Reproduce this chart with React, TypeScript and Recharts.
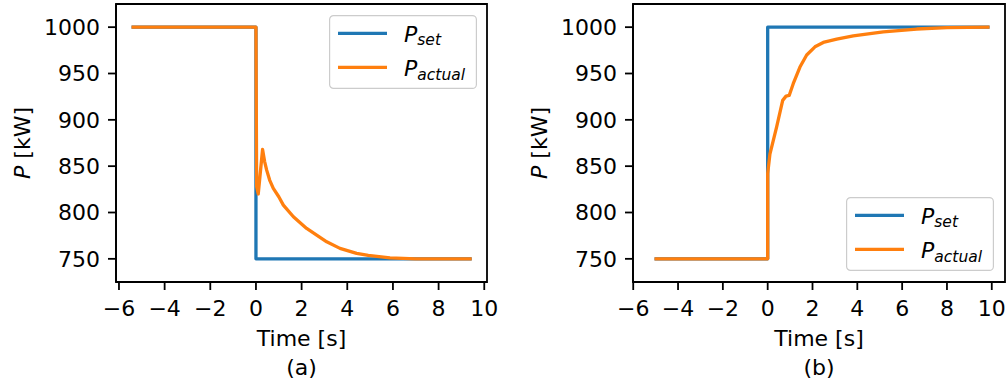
import { LineChart, Line, XAxis, YAxis, Legend, Label, ReferenceArea } from 'recharts';

const FONT = 'DejaVu Sans';
const BLUE = '#1f77b4';
const ORANGE = '#ff7f0e';

const xTicks = [-6, -4, -2, 0, 2, 4, 6, 8, 10];
const yTicks = [750, 800, 850, 900, 950, 1000];

// (a) setpoint step down
const timeSetA = [-5.45, 0, 0, 9.45];
const powerSetA = [1000, 1000, 750, 750];
const timeActualA = [-5.45, 0, 0.03, 0.1, 0.29, 0.38, 0.47, 0.6, 0.76, 1.0, 1.2, 1.64, 2.22, 2.66, 3.1, 3.68, 4.41, 4.92, 5.87, 7.0, 9.45];
const powerActualA = [1000, 1000, 828, 820, 868, 855, 845.7, 835, 826, 817, 808, 795.4, 782.8, 775.6, 768.4, 761.3, 755.9, 753.7, 751, 750, 750];

// (b) setpoint step up
const timeSetB = [-5.05, 0, 0, 9.9];
const powerSetB = [750, 750, 1000, 1000];
const timeActualB = [-5.05, 0, 0, 0.1, 0.4, 0.67, 0.82, 0.96, 1.14, 1.44, 1.74, 2.11, 2.48, 3.08, 3.82, 4.57, 5.16, 6.65, 8.0, 9.9];
const powerActualB = [750, 750, 842, 863, 892.5, 921, 925.6, 926.3, 939, 957, 970, 978.8, 983.5, 987, 990.6, 993, 995, 998, 999.5, 1000];

const yDomain: [number, number] = [725, 1025];

const toRows = (t: number[], p: number[]) => t.map((v, i) => ({ t: v, p: p[i] }));
const fmt = (v: number) => String(v).replace('-', '\u2212');

const axisStyle = { stroke: '#000', strokeWidth: 1.8 };
const tickStyle = { fontSize: 22, fontFamily: FONT, fill: '#000' };

const PLOT_TOP = 4;
const PLOT_BOTTOM = 282;
const HEIGHT = 389;

function LegendBox() {
  return (
    <svg width={148} height={74} style={{ display: 'block' }}>
      <rect x={0.6} y={0.6} width={146.8} height={72.8} rx={4} fill="#fff" fillOpacity={0.8} stroke="#ccc" strokeWidth={1.2} />
      <line x1={9} x2={58} y1={18.3} y2={18.3} stroke={BLUE} strokeWidth={3.3} />
      <line x1={9} x2={58} y1={52.3} y2={52.3} stroke={ORANGE} strokeWidth={3.3} />
      <text x={75} y={27.3} fontFamily={FONT} fontSize={22} fontStyle="italic" fill="#000">
        P<tspan fontSize={15.5} dy={3}>set</tspan>
      </text>
      <text x={75} y={60.6} fontFamily={FONT} fontSize={22} fontStyle="italic" fill="#000">
        P<tspan fontSize={15.5} dy={4}>actual</tspan>
      </text>
    </svg>
  );
}

type PanelProps = {
  width: number;
  plotLeft: number;
  plotRight: number;
  xDomain: [number, number];
  setRows: { t: number; p: number }[];
  actualRows: { t: number; p: number }[];
  legendLeft: number;
  legendTop: number;
  yLabelX: number;
  tag: string;
};

function Panel(props: PanelProps) {
  const { width, plotLeft, plotRight, xDomain, setRows, actualRows, legendLeft, legendTop, yLabelX, tag } = props;
  const cx = (plotLeft + plotRight) / 2;
  const cy = (PLOT_TOP + PLOT_BOTTOM) / 2;
  return (
    <LineChart width={width} height={HEIGHT} margin={{ top: PLOT_TOP, right: width - plotRight, bottom: 0, left: 0 }}>
      <XAxis
        type="number"
        dataKey="t"
        domain={xDomain}
        allowDataOverflow
        ticks={xTicks}
        interval={0}
        tickFormatter={fmt}
        tickSize={8}
        tickMargin={10}
        height={HEIGHT - PLOT_BOTTOM}
        tick={tickStyle}
        axisLine={axisStyle}
        tickLine={axisStyle}
      >
        <Label
          content={() => (
            <g fontFamily={FONT} fontSize={22} fill="#000">
              <text x={cx} y={346} textAnchor="middle">Time [s]</text>
              <text x={cx} y={375} textAnchor="middle">{tag}</text>
            </g>
          )}
        />
      </XAxis>
      <YAxis
        type="number"
        domain={yDomain}
        allowDataOverflow
        ticks={yTicks}
        interval={0}
        tickSize={8}
        tickMargin={8}
        width={plotLeft}
        tick={tickStyle}
        axisLine={axisStyle}
        tickLine={axisStyle}
      >
        <Label
          content={() => (
            <text x={yLabelX} y={cy} transform={`rotate(-90 ${yLabelX} ${cy})`} textAnchor="middle" fontFamily={FONT} fontSize={22} fill="#000">
              <tspan fontStyle="italic">P</tspan>{' [kW]'}
            </text>
          )}
        />
      </YAxis>
      {/* frame: top and right spines */}
      <ReferenceArea
        x1={xDomain[0]}
        x2={xDomain[1]}
        y1={yDomain[0]}
        y2={yDomain[1]}
        ifOverflow="visible"
        fill="none"
        fillOpacity={0}
        stroke="#000"
        strokeWidth={1.8}
      />
      <Line data={setRows} dataKey="p" type="linear" stroke={BLUE} strokeWidth={3.3} strokeLinejoin="round" dot={false} activeDot={false} isAnimationActive={false} />
      <Line data={actualRows} dataKey="p" type="linear" stroke={ORANGE} strokeWidth={3.3} strokeLinejoin="round" dot={false} activeDot={false} isAnimationActive={false} />
      <Legend
        layout="vertical"
        align="center"
        verticalAlign="middle"
        content={() => <LegendBox />}
        wrapperStyle={{ left: legendLeft, top: legendTop, width: 148, height: 74 }}
      />
    </LineChart>
  );
}

export default function App() {
  return (
    <div style={{ position: 'absolute', left: 0, top: 0, width: 1008, height: HEIGHT, background: '#fff' }}>
      <div style={{ position: 'absolute', left: 0, top: 0 }}>
        <Panel
          width={500}
          plotLeft={116}
          plotRight={487}
          xDomain={[-6.13, 10.12]}
          setRows={toRows(timeSetA, powerSetA)}
          actualRows={toRows(timeActualA, powerActualA)}
          legendLeft={329}
          legendTop={15}
          yLabelX={30}
          tag="(a)"
        />
      </div>
      <div style={{ position: 'absolute', left: 500, top: 0 }}>
        <Panel
          width={508}
          plotLeft={133}
          plotRight={505}
          xDomain={[-6.01, 10.59]}
          setRows={toRows(timeSetB, powerSetB)}
          actualRows={toRows(timeActualB, powerActualB)}
          legendLeft={346}
          legendTop={197}
          yLabelX={47}
          tag="(b)"
        />
      </div>
    </div>
  );
}
